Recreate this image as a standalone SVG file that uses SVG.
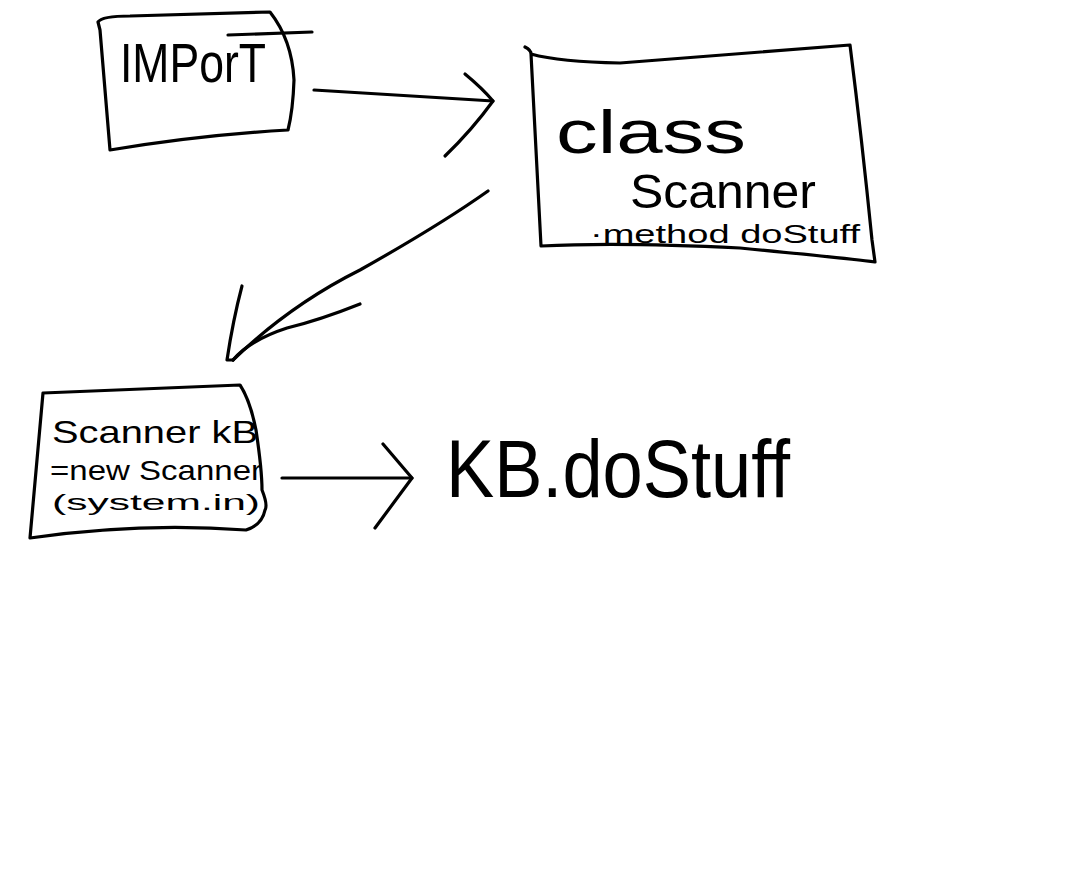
<svg xmlns="http://www.w3.org/2000/svg" width="1080" height="884" viewBox="0 0 1080 884">
<style>
.s{fill:none;stroke:#000;stroke-width:3.2;stroke-linecap:round;stroke-linejoin:round}
.t{font-family:"Liberation Sans",Arial,sans-serif;fill:#000}
</style>
<rect width="1080" height="884" fill="#fff"/>
<g id="node-import">
<path class="s" d="M98,22 Q102,16 130,16 L270,12 Q292,40 294,80 Q293,110 288,130 Q200,135 110,150 L100,30 Z"/>
<path class="s" d="M228,35 L312,32"/>
<text class="t" x="120" y="82" font-size="56" textLength="146" lengthAdjust="spacingAndGlyphs">IMPorT</text>
</g>
<g id="node-class">
<path class="s" d="M525,47 Q531,50 531,54 Q560,62 620,63 L850,45 Q862,140 872,240 L875,262 Q845,258 740,248 Q620,242 541,246 L531,54"/>
<text class="t" x="556" y="153" font-size="62" textLength="190" lengthAdjust="spacingAndGlyphs">class</text>
<text class="t" x="630" y="208" font-size="48" textLength="186" lengthAdjust="spacingAndGlyphs">Scanner</text>
<text class="t" x="590" y="243" font-size="26" textLength="270" lengthAdjust="spacingAndGlyphs">·method doStuff</text>
</g>
<g id="node-scanner">
<path class="s" d="M43,393 L240,385 Q250,400 256,430 Q262,470 262,490 Q268,505 265,510 Q262,525 246,530 Q140,522 30,538 L43,393"/>
<text class="t" x="52" y="443" font-size="32" textLength="206" lengthAdjust="spacingAndGlyphs">Scanner kB</text>
<text class="t" x="50" y="480" font-size="28" textLength="212" lengthAdjust="spacingAndGlyphs">=new Scanner</text>
<text class="t" x="52" y="510" font-size="22" textLength="208" lengthAdjust="spacingAndGlyphs">(system.in)</text>
</g>
<g id="node-kbdostuff">
<text class="t" x="446" y="497" font-size="82" textLength="344" lengthAdjust="spacingAndGlyphs">KB.doStuff</text>
</g>
<g id="connectors">
<path class="s" d="M314,90 L493,101"/>
<path class="s" d="M465,74 Q482,88 493,101 Q472,130 445,156"/>
<path class="s" d="M488,191 Q440,225 360,270 Q290,305 233,360"/>
<path class="s" d="M242,286 Q233,320 227,360 L233,360"/>
<path class="s" d="M360,304 Q320,320 287,328 Q250,340 233,360"/>
<path class="s" d="M282,478 L412,478"/>
<path class="s" d="M383,444 L412,478 L375,528"/>
</g>
</svg>
